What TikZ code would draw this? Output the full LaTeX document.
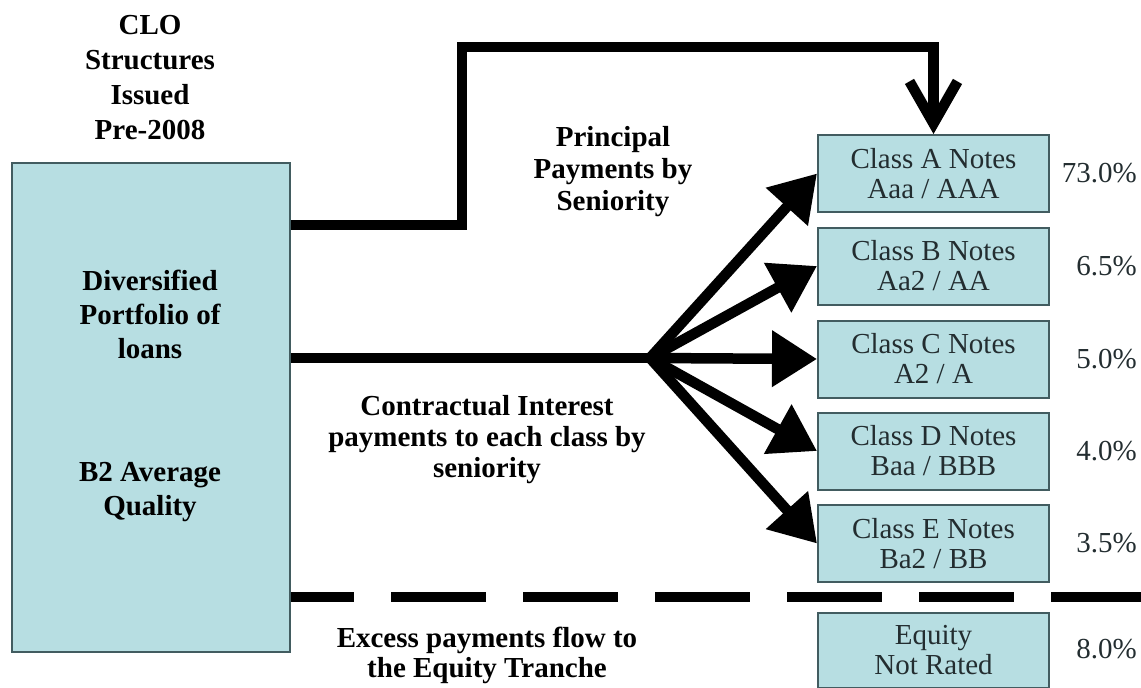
\documentclass[tikz,border=0pt]{standalone}
\usepackage{fontspec}
\setmainfont{Liberation Serif}
\usepackage{tikz}
\usetikzlibrary{positioning, arrows.meta}
\definecolor{notefill}{RGB}{183,222,226}
\definecolor{noteedge}{RGB}{66,92,96}
\definecolor{notetext}{RGB}{35,45,48}

\begin{document}
\begin{tikzpicture}[x=1pt, y=-1pt,
		every node/.style={inner sep=0pt},
		pool/.style={draw=noteedge, fill=notefill, line width=2pt},
		tranche/.style={pool, minimum width=231pt, minimum height=77pt, align=center, text=notetext, font=\fontsize{29}{30}\selectfont},
		lbl/.style={align=center, font=\fontsize{29}{34}\bfseries\selectfont},
		pct/.style={anchor=east, text=notetext, font=\fontsize{29}{30}\selectfont},
		flow/.style={line width=10.5pt}]
		\useasboundingbox (0,0) rectangle (1141,688);
		
		\node[pool, minimum width=278pt, minimum height=489pt] (loans) at (151,407.5) {};
		\node[lbl, font=\fontsize{29}{35}\bfseries\selectfont] (title) at (150,78) {CLO\\Structures\\Issued\\Pre-2008};
		\node[lbl] (divers) at (150,314) {Diversified\\Portfolio of\\loans};
		\node[lbl] (quality) at (150,492) {B2 Average\\Quality};
		
		\node[tranche] (clsA) at (933.5,173.5) {Class A Notes\\Aaa / AAA};
		\node[tranche] (clsB) at (933.5,266) {Class B Notes\\Aa2 / AA};
		\node[tranche] (clsC) at (933.5,359) {Class C Notes\\A2 / A};
		\node[tranche] (clsD) at (933.5,451) {Class D Notes\\Baa / BBB};
		\node[tranche] (clsE) at (933.5,543.5) {Class E Notes\\Ba2 / BB};
		\node[tranche, minimum height=75pt] (equity) at (933.5,650.5) {Equity\\Not Rated};
		
		\node[pct] (pctA) at (1137,173.5) {73.0\%};
		\node[pct] (pctB) at (1137,266) {6.5\%};
		\node[pct] (pctC) at (1137,359) {5.0\%};
		\node[pct] (pctD) at (1137,451) {4.0\%};
		\node[pct] (pctE) at (1137,543.5) {3.5\%};
		\node[pct] (pctEq) at (1137,649) {8.0\%};
		
		\node[lbl, font=\fontsize{29}{32}\bfseries\selectfont] (princ) at (613,172) {Principal\\Payments by\\Seniority};
		\node[lbl, font=\fontsize{29}{31}\bfseries\selectfont] (interest) at (487,440) {Contractual Interest\\payments to each class by\\seniority};
		\node[lbl, font=\fontsize{29}{30}\bfseries\selectfont] (excess) at (487,655) {Excess payments flow to\\the Equity Tranche};
		
		\coordinate (fan) at (650,358);
		\coordinate (dashend) at (1141,597);
		
		\draw[flow, -{Straight Barb[length=42pt, width=48pt]}]
		(loans.east |- 0,225) -- (462,225) -- (462,47) -- (clsA.north |- 0,47) -- (clsA.north);
		
		\draw[flow] (loans.east |- fan) -- (fan);
		\path[flow, -{Triangle[length=45pt, width=54pt]}]
		(fan) edge (clsA.west)
		(fan) edge (clsB.west)
		(fan) edge (clsC.west)
		(fan) edge (clsD.west)
		(fan) edge (clsE.west);
		
		\draw[flow, dash pattern=on 95pt off 37pt, dash phase=32pt] (loans.east |- dashend) -- (dashend);
	\end{tikzpicture}
\end{document}
